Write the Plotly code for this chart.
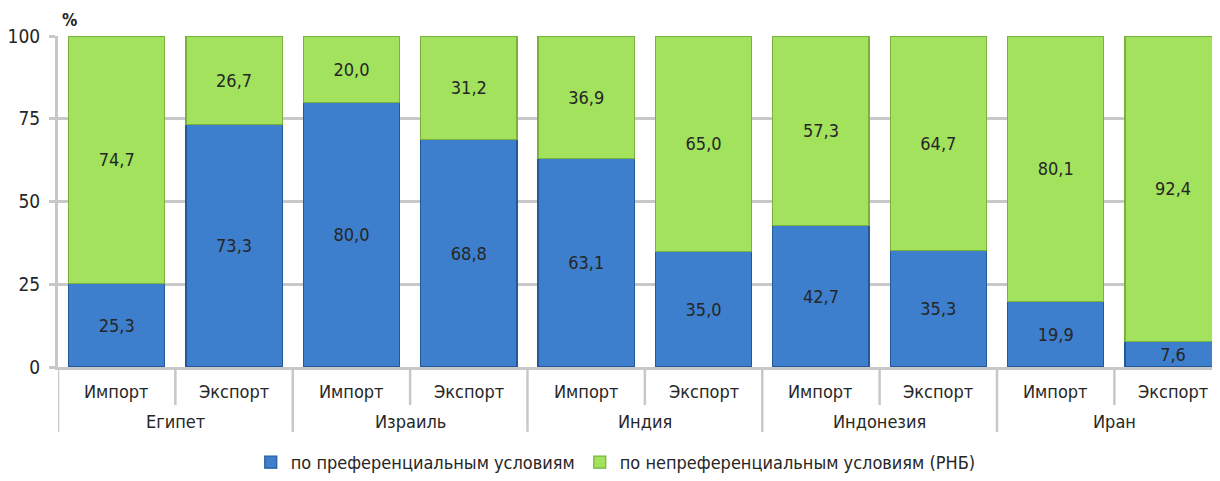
import plotly.graph_objects as go

countries = ["Египет", "Израиль", "Индия", "Индонезия", "Иран"]
flows = ["Импорт", "Экспорт"]
pref = [25.3, 73.3, 80.0, 68.8, 63.1, 35.0, 42.7, 35.3, 19.9, 7.6]
nonpref = [74.7, 26.7, 20.0, 31.2, 36.9, 65.0, 57.3, 64.7, 80.1, 92.4]
series_names = ["по преференциальным условиям", "по непреференциальным условиям (РНБ)"]
y_ticks = [0, 25, 50, 75, 100]

FONT = "Liberation Sans Narrow, Arial Narrow, DejaVu Sans Condensed, sans-serif"
TXT = "#262626"
GRID = "#c8c8c8"
cats = [f"{c} {f}" for c in countries for f in flows]
fmt = lambda v: f"{v:.1f}".replace(".", ",")

fig = go.Figure()
fig.add_trace(go.Bar(
    x=cats, y=pref, name=series_names[0],
    text=[fmt(v) for v in pref], textposition="inside", insidetextanchor="middle",
    constraintext="none", textfont=dict(size=18, color=TXT, family=FONT),
    marker=dict(color="#3d7fcc", line=dict(color="#25589a", width=1.2)),
))
fig.add_trace(go.Bar(
    x=cats, y=nonpref, name=series_names[1],
    text=[fmt(v) for v in nonpref], textposition="inside", insidetextanchor="middle",
    constraintext="none", textfont=dict(size=18, color=TXT, family=FONT),
    marker=dict(color="#a2e25c", line=dict(color="#78b23c", width=1.2)),
))

shapes = []
annotations = [dict(text="<b>%</b>", xref="paper", yref="paper", x=0.002, y=1.048,
                    xanchor="left", yanchor="middle", showarrow=False,
                    font=dict(size=17, family=FONT, color=TXT))]
for i, c in enumerate(countries):
    # inner divider (Import | Export) and outer divider (country boundary)
    shapes.append(dict(type="line", xref="x", yref="paper", x0=2 * i + 0.5, x1=2 * i + 0.5,
                       y0=0, y1=-0.115, line=dict(color=GRID, width=2.5)))
    shapes.append(dict(type="line", xref="x", yref="paper", x0=2 * i - 0.5, x1=2 * i - 0.5,
                       y0=0, y1=-0.196, line=dict(color=GRID, width=2.5)))
    for j, f in enumerate(flows):
        annotations.append(dict(text=f, xref="x", yref="paper", x=cats[2 * i + j],
                                y=-0.0755, xanchor="center", yanchor="middle",
                                showarrow=False, font=dict(size=18, family=FONT, color=TXT)))
    annotations.append(dict(text=c, xref="x", yref="paper", x=2 * i + 0.5, y=-0.166,
                            xanchor="center", yanchor="middle", showarrow=False,
                            font=dict(size=18, family=FONT, color=TXT)))

fig.update_layout(
    width=1212, height=473,
    margin=dict(l=45, r=0, t=28, b=114),
    barmode="stack", bargap=0.18,
    plot_bgcolor="white", paper_bgcolor="white",
    font=dict(family=FONT, size=18, color=TXT),
    showlegend=True,
    legend=dict(orientation="h", x=0.48, xanchor="center", y=-0.29, yanchor="middle",
                font=dict(size=18, family=FONT, color=TXT), traceorder="normal"),
    shapes=shapes,
    annotations=annotations,
    xaxis=dict(type="category", range=[-0.5, 9.4], showline=True,
               linecolor=GRID, linewidth=2.5, ticks="", showticklabels=False),
    yaxis=dict(range=[0, 100], tickvals=y_ticks, showgrid=True, gridcolor=GRID,
               gridwidth=2.5, showline=True, linecolor=GRID, linewidth=3,
               ticks="outside", ticklen=6, tickwidth=3, tickcolor=GRID,
               ticklabelstandoff=5, zeroline=False,
               tickfont=dict(size=19, family=FONT, color=TXT)),
)

fig.write_html("out.html")
